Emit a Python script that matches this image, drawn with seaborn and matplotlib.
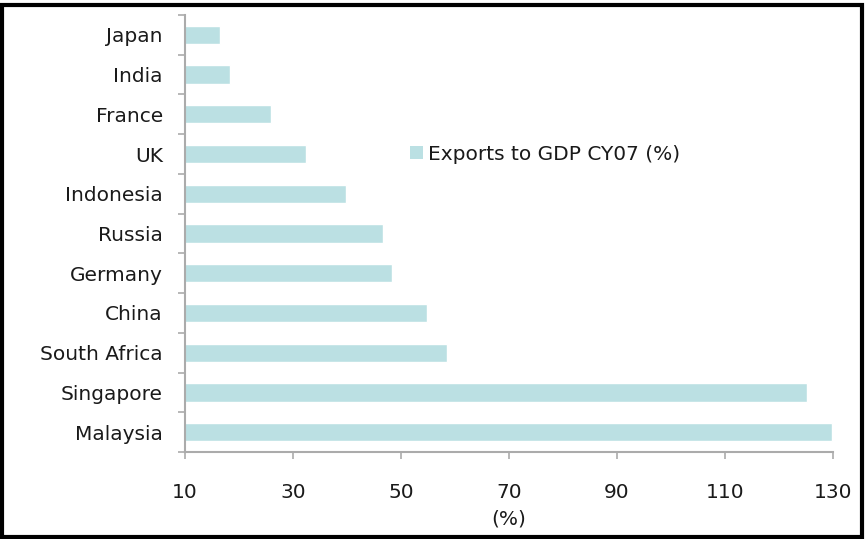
import matplotlib
matplotlib.use("Agg")
import matplotlib.pyplot as plt
import seaborn as sns
import pandas as pd
from matplotlib.patches import Rectangle, Patch
from matplotlib.ticker import FixedLocator

countries = ["Japan", "India", "France", "UK", "Indonesia", "Russia", "Germany",
             "China", "South Africa", "Singapore", "Malaysia"]
values = [16.5, 18.3, 25.9, 32.4, 39.8, 46.7, 48.3, 54.8, 58.5, 125.2, 129.8]
xticks = [10, 30, 50, 70, 90, 110, 130]
series_name = "Exports to GDP CY07 (%)"

bar_color = "#BBE0E3"
text_color = "#1a1a1a"
axis_color = "#ABABAB"
fs = 14.5

sns.set_style("white")
plt.rcParams['font.family'] = ['DejaVu Sans']

fig = plt.figure(figsize=(8.65, 5.39), dpi=100)
ax = fig.add_axes([185/865, 1-452/539, (833-185)/865, (452-15)/539])

df = pd.DataFrame({"country": countries, "value": values})
sns.barplot(data=df, x="value", y="country", order=countries, orient="h",
            color=bar_color, width=0.46, ax=ax, saturation=1)

ax.set_xlim(10, 130)
ax.set_ylim(len(countries) - 0.5, -0.5)
ax.set_xticks(xticks)
ax.set_xticklabels([str(t) for t in xticks])
ax.set_xlabel("(%)", fontsize=fs, color=text_color, labelpad=6)
ax.set_ylabel("")

ax.yaxis.set_minor_locator(FixedLocator([i - 0.5 for i in range(len(countries) + 1)]))
ax.tick_params(axis="y", which="major", left=True, length=0, pad=16,
               labelsize=fs, labelcolor=text_color)
ax.tick_params(axis="y", which="minor", left=True, length=5, width=1.2,
               color=axis_color, direction="out")
ax.tick_params(axis="x", which="major", bottom=True, length=5, width=1.2,
               color=axis_color, direction="out",
               labelsize=fs, labelcolor=text_color, pad=17)

for s in ["top", "right"]:
    ax.spines[s].set_visible(False)
for s in ["left", "bottom"]:
    ax.spines[s].set_color(axis_color)
    ax.spines[s].set_linewidth(1.5)

handles = [Patch(facecolor=bar_color, edgecolor="none", label=series_name)]
fig.legend(handles=handles, loc="center left", bbox_to_anchor=(410/865, 1-154/539),
           frameon=False, handlelength=0.65, handleheight=0.65, handletextpad=0.25,
           borderpad=0, borderaxespad=0, fontsize=fs, labelcolor=text_color)

fig.patches.append(Rectangle((2/865, 2/539), 1-5/865, 1-7/539, transform=fig.transFigure,
                             fill=False, edgecolor="black", linewidth=3, zorder=10))

fig.savefig("out.png", dpi=100)
